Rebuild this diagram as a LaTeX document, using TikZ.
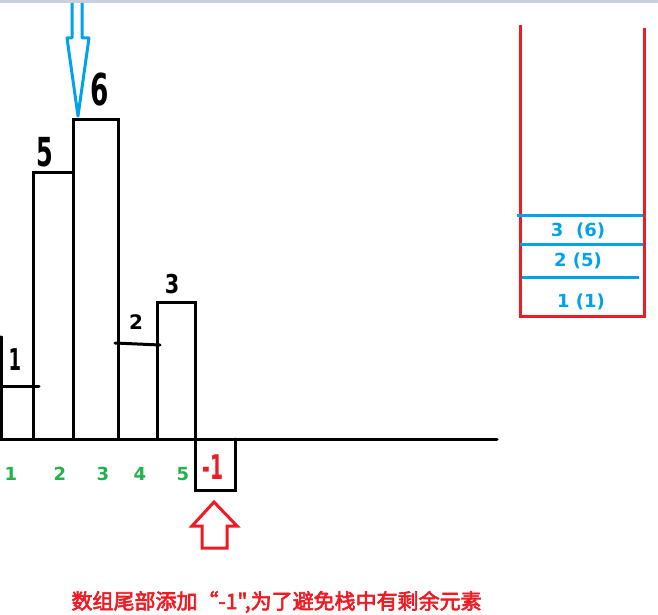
\documentclass[tikz,border=0pt]{standalone}
\usepackage{fontspec}
\setmainfont{DejaVu Sans}
\newfontfamily\cjk[AutoFakeBold=3]{Noto Sans CJK SC}
\definecolor{stackred}{RGB}{237,28,36}
\definecolor{arrowblue}{RGB}{0,162,232}
\definecolor{idxgreen}{RGB}{34,177,76}
\definecolor{topband}{RGB}{200,208,224}

\begin{document}
\begin{tikzpicture}[x=1pt, y=-1pt,
    bar/.style={line width=3pt, black, line cap=round},
    hand/.style={black},
    idx/.style={idxgreen, font=\fontsize{18}{20}\selectfont\bfseries},
    slot/.style={arrowblue, font=\fontsize{18}{20}\selectfont\bfseries},
    stackwall/.style={line width=3pt, stackred},
    slotline/.style={line width=3pt, arrowblue}]
    \useasboundingbox (0,0) rectangle (658,615);
    \fill [topband] (0,0) rectangle (658,3);

    % bars
    \draw [bar] (1,337) -- (1,439);
    \draw [bar] (0,386) -- (39,386);
    \draw [bar] (33,439) -- (33,172) -- (73,172);
    \draw [bar] (73,439) -- (73,120) -- (118,120) -- (118,439);
    \draw [bar] (115,343) -- (160,345);
    \draw [bar] (157,439) -- (157,302) -- (195,302) -- (195,439);
    \draw [bar] (0,439) -- (497,439);
    \draw [bar] (195,439) -- (195,490) -- (235,490) -- (235,439);

    % heights
    \node [hand, font=\fontsize{30}{30}\selectfont\bfseries, xscale=0.6] (h1) at (15,360) {1};
    \node [hand, font=\fontsize{40}{40}\selectfont\bfseries, xscale=0.6] (h5) at (45,152) {5};
    \node [hand, font=\fontsize{44}{44}\selectfont\bfseries, xscale=0.6] (h6) at (100,90) {6};
    \node [hand, font=\fontsize{20}{20}\selectfont\bfseries] (h2) at (136,322) {2};
    \node [hand, font=\fontsize{26}{26}\selectfont\bfseries, xscale=0.8] (h3) at (172,284) {3};
    \node [stackred, font=\fontsize{34}{34}\selectfont\bfseries, xscale=0.55] (hm) at (213,467) {-1};

    % indices
    \node [idx] (i1) at (11,474) {1};
    \node [idx] (i2) at (60,474) {2};
    \node [idx] (i3) at (103,474) {3};
    \node [idx] (i4) at (140,474) {4};
    \node [idx] (i5) at (183,474) {5};

    % arrows
    \draw [arrowblue, line width=3pt, line join=round]
        (72,3) -- (72,38) -- (67,38) -- (78,116) -- (89,38) -- (82,38) -- (82,3);
    \draw [stackred, line width=3pt, line join=miter]
        (202,548) -- (202,526) -- (192,526) -- (214,502) -- (237,526) -- (227,526) -- (227,548) -- cycle;

    % stack
    \draw [stackwall] (520,25) -- (520,316) -- (644,316) -- (644,28);
    \draw [slotline] (517,215) -- (643,215);
    \draw [slotline] (520,244) -- (643,244);
    \draw [slotline] (522,277) -- (639,277);
    \node [slot] (s3) at (578,231) {3~~(6)};
    \node [slot] (s2) at (578,261) {2 (5)};
    \node [slot] (s1) at (581,302) {1 (1)};

    % caption
    \node [stackred, anchor=west, font=\cjk\fontsize{21}{24}\selectfont\bfseries]
        (cap) at (68,602) {数组尾部添加“-1",为了避免栈中有剩余元素};
\end{tikzpicture}
\end{document}
